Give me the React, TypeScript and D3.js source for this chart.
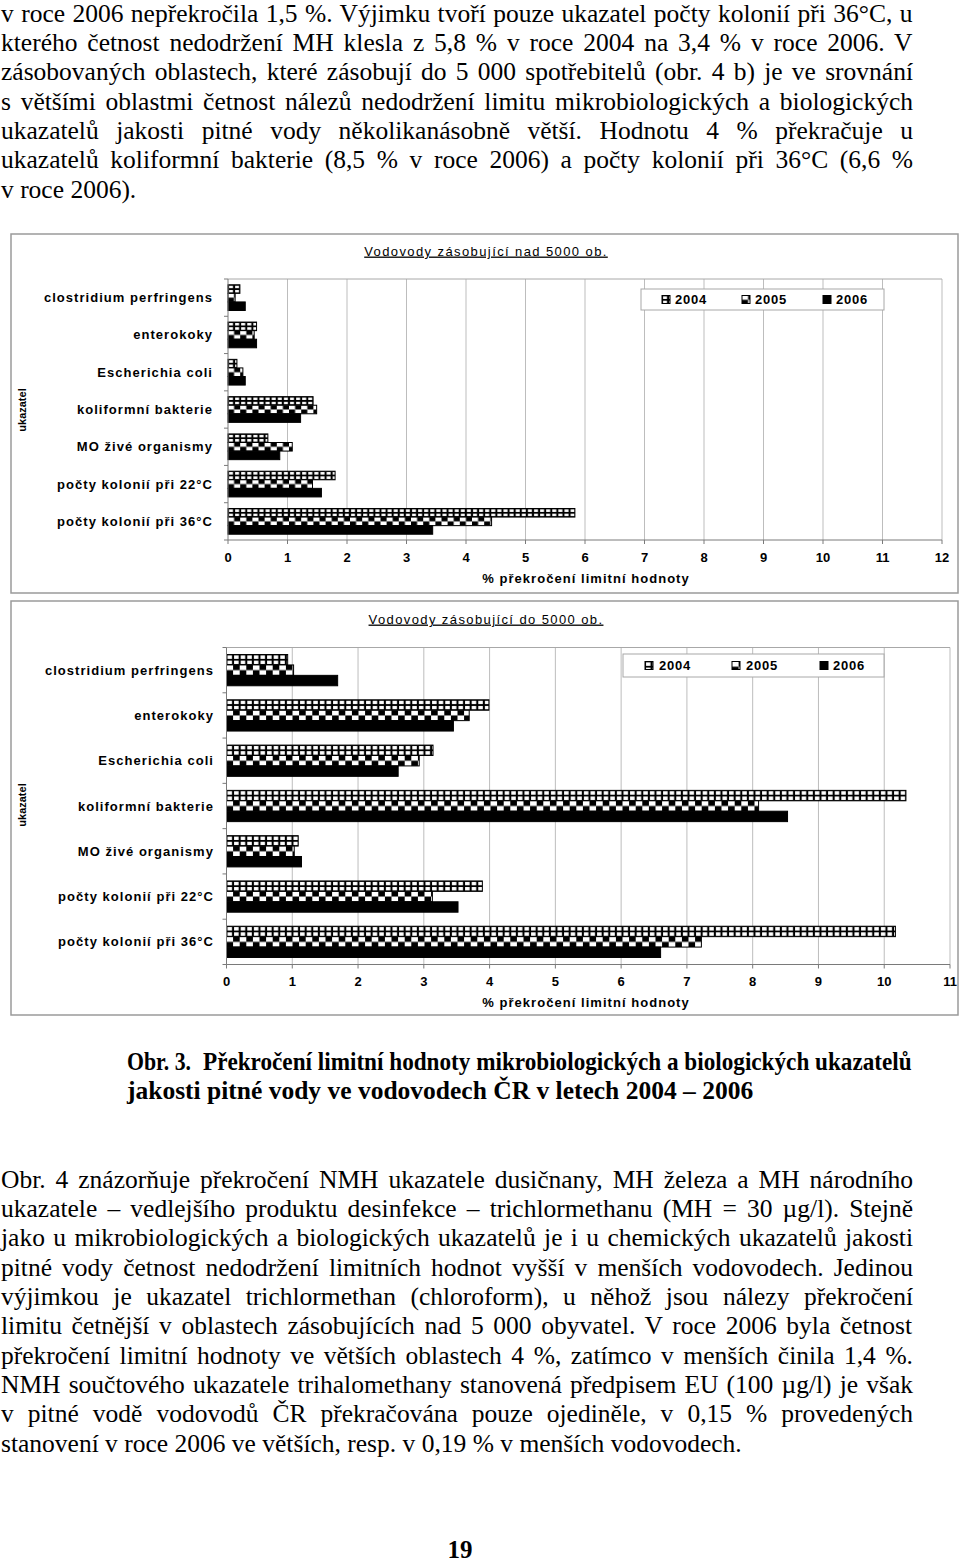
import React from 'react';
import * as d3 from 'd3';

// ---------- data ----------
const categories = [
  'clostridium perfringens',
  'enterokoky',
  'Escherichia coli',
  'koliformní bakterie',
  'MO živé organismy',
  'počty kolonií při 22°C',
  'počty kolonií při 36°C',
];
const years = ['2004', '2005', '2006'];

// Vodovody zásobující nad 5000 ob.
const large2004 = [0.2, 0.48, 0.15, 1.43, 0.67, 1.8, 5.83];
const large2005 = [0.12, 0.44, 0.25, 1.49, 1.08, 1.42, 4.43];
const large2006 = [0.29, 0.48, 0.29, 1.22, 0.87, 1.57, 3.44];
const largeTicks = [0, 1, 2, 3, 4, 5, 6, 7, 8, 9, 10, 11, 12];

// Vodovody zásobující do 5000 ob.
const small2004 = [0.93, 3.99, 3.14, 10.33, 1.09, 3.89, 10.17];
const small2005 = [1.02, 3.69, 2.93, 8.09, 1.03, 3.13, 7.22];
const small2006 = [1.69, 3.45, 2.61, 8.53, 1.14, 3.52, 6.6];
const smallTicks = [0, 1, 2, 3, 4, 5, 6, 7, 8, 9, 10, 11];

const topLines = [
  'v roce 2006 nepřekročila 1,5 %. Výjimku tvoří pouze ukazatel počty kolonií při 36°C, u',
  'kterého četnost nedodržení MH klesla z 5,8 % v roce 2004 na 3,4 % v roce 2006. V',
  'zásobovaných oblastech, které zásobují do 5 000 spotřebitelů (obr. 4 b) je ve srovnání',
  's většími oblastmi četnost nálezů nedodržení limitu mikrobiologických a biologických',
  'ukazatelů jakosti pitné vody několikanásobně větší. Hodnotu 4 % překračuje u',
  'ukazatelů koliformní bakterie (8,5 % v roce 2006) a počty kolonií při 36°C (6,6 %',
  'v roce 2006).',
];
const captionLabel = 'Obr. 3.';
const captionLines = [
  'Překročení limitní hodnoty mikrobiologických a biologických ukazatelů',
  'jakosti pitné vody ve vodovodech ČR v letech 2004 – 2006',
];
const bottomLines = [
  'Obr. 4 znázorňuje překročení NMH ukazatele dusičnany, MH železa a MH národního',
  'ukazatele – vedlejšího produktu desinfekce – trichlormethanu (MH = 30 µg/l). Stejně',
  'jako u mikrobiologických a biologických ukazatelů je i u chemických ukazatelů jakosti',
  'pitné vody četnost nedodržení limitních hodnot vyšší v menších vodovodech. Jedinou',
  'výjimkou je ukazatel trichlormethan (chloroform), u něhož jsou nálezy překročení',
  'limitu četnější v oblastech zásobujících nad 5 000 obyvatel. V roce 2006 byla četnost',
  'překročení limitní hodnoty ve větších oblastech 4 %, zatímco v menších činila 1,4 %.',
  'NMH součtového ukazatele trihalomethany stanovená předpisem EU (100 µg/l) je však',
  'v pitné vodě vodovodů ČR překračována pouze ojediněle, v 0,15 % provedených',
  'stanovení v roce 2006 ve větších, resp. v 0,19 % v menších vodovodech.',
];
const pageNumber = '19';

// ---------- helpers ----------
const SERIF = "'Liberation Serif', 'Times New Roman', serif";
const SANS = "'Liberation Sans', Arial, sans-serif";
const BODY_SIZE = 25.5;

let ctx: CanvasRenderingContext2D | null = null;
function measure(text: string, font: string): number {
  if (!ctx) {
    const c = document.createElement('canvas');
    ctx = c.getContext('2d');
  }
  if (!ctx) return text.length * 10;
  ctx.font = font;
  return ctx.measureText(text).width;
}

function BodyLine({ x, y, right, text, justify, bold, fit }: any) {
  const font = `${bold ? 'bold ' : ''}${BODY_SIZE}px "Liberation Serif"`;
  let ws = 0;
  const w = measure(text, font);
  let sx = 1;
  if (fit && right && w > right - x) {
    sx = (right - x) / w;
  } else if (justify) {
    const n = (text.match(/ /g) || []).length;
    if (n) ws = (right - x - w) / n;
  }
  return (
    <text
      transform={`translate(${x},${y}) scale(${sx},1)`}
      fontFamily={SERIF}
      fontSize={BODY_SIZE}
      fontWeight={bold ? 'bold' : 'normal'}
      style={{ wordSpacing: `${ws}px` }}
      fill="#000"
    >
      {text}
    </text>
  );
}

function BarChart({ id, cfg, s2004, s2005, s2006, ticks }: any) {
  const { frame, plot, legend } = cfg;
  const x = d3.scaleLinear().domain([0, ticks[ticks.length - 1]]).range([plot.l, plot.r]);
  const y = d3
    .scaleBand()
    .domain(categories)
    .range([plot.t, plot.b])
    .paddingInner(0.31)
    .paddingOuter(0.155);
  const inner = d3.scaleBand().domain(years).range([0, y.bandwidth()]);
  const bh = inner.bandwidth();
  const rowH = bh / 2;
  const series = [s2004, s2005, s2006];
  const fills = [`url(#${id}-p2004)`, `url(#${id}-p2005)`, '#000'];
  const step = y.step();
  const boundaries = d3.range(categories.length + 1).map((i) => plot.t + i * step);
  const cw = cfg.cellW;

  return (
    <g>
      <defs>
        <pattern id={`${id}-p2004`} patternUnits="userSpaceOnUse" width={cw} height={rowH}>
          <rect x={0} y={0} width={cw} height={rowH} fill="#000" />
          <rect x={1} y={0.9} width={cw - 2.1} height={rowH - 1.8} fill="#fff" />
        </pattern>
        <pattern id={`${id}-p2005`} patternUnits="userSpaceOnUse" width={cw * 2} height={rowH * 2}>
          <rect x={0} y={0} width={cw * 2} height={rowH * 2} fill="#fff" />
          <rect x={cw} y={0} width={cw} height={rowH} fill="#000" />
          <rect x={0} y={rowH} width={cw} height={rowH} fill="#000" />
        </pattern>
      </defs>
      <rect
        x={frame.x}
        y={frame.y}
        width={frame.w}
        height={frame.h}
        fill="#fff"
        stroke="#9a9a9a"
        strokeWidth={1.5}
      />
      <text
        x={cfg.titleX}
        y={cfg.titleY}
        dy="0.35em"
        textAnchor="middle"
        fontFamily={SANS}
        fontSize={13}
        letterSpacing={1.4}
        textDecoration="underline"
        fill="#000"
      >
        {cfg.title}
      </text>
      {/* gridlines */}
      {ticks.slice(1).map((t: number) => (
        <line key={`g${t}`} x1={x(t)} x2={x(t)} y1={plot.t} y2={plot.b} stroke="#bdbdbd" strokeWidth={1} />
      ))}
      <line x1={plot.l} x2={plot.r} y1={plot.t} y2={plot.t} stroke="#a8a8a8" strokeWidth={1} />
      {/* bars */}
      {categories.map((c, ci) =>
        series.map((s, si) => {
          const by = (y(c) as number) + (inner(years[si]) as number);
          return (
            <g key={`${c}-${si}`} transform={`translate(${x(0)},${by})`}>
              <rect
                x={0}
                y={0}
                width={x(s[ci]) - x(0)}
                height={bh}
                fill={fills[si]}
                stroke="#000"
                strokeWidth={1}
              />
            </g>
          );
        })
      )}
      {/* axes */}
      <line x1={plot.l} x2={plot.l} y1={plot.t} y2={plot.b} stroke="#7a7a7a" strokeWidth={1} />
      {boundaries.map((b, i) => (
        <line key={`yt${i}`} x1={plot.l - 4} x2={plot.l} y1={b} y2={b} stroke="#7a7a7a" strokeWidth={1} />
      ))}
      <line x1={plot.l} x2={plot.r} y1={plot.b} y2={plot.b} stroke="#7a7a7a" strokeWidth={1} />
      {ticks.map((t: number) => (
        <line key={`xt${t}`} x1={x(t)} x2={x(t)} y1={plot.b} y2={plot.b + 4} stroke="#7a7a7a" strokeWidth={1} />
      ))}
      {ticks.map((t: number) => (
        <text
          key={`tl${t}`}
          x={x(t)}
          y={cfg.tickY}
          dy="0.35em"
          textAnchor="middle"
          fontFamily={SANS}
          fontWeight="bold"
          fontSize={13}
          fill="#000"
        >
          {t}
        </text>
      ))}
      <text
        x={cfg.axisTitleX}
        y={cfg.axisTitleY}
        dy="0.35em"
        textAnchor="middle"
        fontFamily={SANS}
        fontWeight="bold"
        fontSize={13}
        letterSpacing={1.04}
        fill="#000"
      >
        % překročení limitní hodnoty
      </text>
      {categories.map((c) => (
        <text
          key={`cl${c}`}
          x={cfg.labelRight}
          y={(y(c) as number) + y.bandwidth() / 2}
          dy="0.35em"
          textAnchor="end"
          fontFamily={SANS}
          fontWeight="bold"
          fontSize={13}
          letterSpacing={1.04}
          fill="#000"
        >
          {c}
        </text>
      ))}
      <text
        transform={`translate(${cfg.yTitleX},${cfg.yTitleY}) rotate(-90)`}
        dy="0.35em"
        textAnchor="middle"
        fontFamily={SANS}
        fontWeight="bold"
        fontSize={11}
        fill="#000"
      >
        ukazatel
      </text>
      {/* legend */}
      <rect
        x={legend.x}
        y={legend.y}
        width={legend.w}
        height={legend.h}
        fill="#fff"
        stroke="#a8a8a8"
        strokeWidth={1}
      />
      {years.map((yr, i) => (
        <g key={`lg${yr}`}>
          <g transform={`translate(${legend.swatchX[i]},${legend.y + legend.h / 2 - 4})`}>
            <rect x={0} y={0} width={8} height={8} fill={fills[i]} stroke="#000" strokeWidth={1} />
          </g>
          <text
            x={legend.textX[i]}
            y={legend.y + legend.h / 2}
            dy="0.35em"
            fontFamily={SANS}
            fontWeight="bold"
            fontSize={13}
            letterSpacing={0.8}
            fill="#000"
          >
            {yr}
          </text>
        </g>
      ))}
    </g>
  );
}

const chart1 = {
  title: 'Vodovody zásobující nad 5000 ob.',
  frame: { x: 11, y: 234, w: 947, h: 359 },
  titleX: 486,
  titleY: 251,
  plot: { l: 228, r: 942, t: 279, b: 540 },
  tickY: 557,
  axisTitleX: 586,
  axisTitleY: 578,
  labelRight: 213,
  yTitleX: 22,
  yTitleY: 410,
  cellW: 6.1,
  legend: { x: 641, y: 289, w: 243, h: 21, swatchX: [662, 742, 823], textX: [675, 755, 836] },
};

const chart2 = {
  title: 'Vodovody zásobující do 5000 ob.',
  frame: { x: 11, y: 601, w: 947, h: 414 },
  titleX: 486,
  titleY: 619,
  plot: { l: 226.5, r: 950, t: 647.5, b: 964.5 },
  tickY: 981,
  axisTitleX: 586,
  axisTitleY: 1002,
  labelRight: 214,
  yTitleX: 22,
  yTitleY: 805,
  cellW: 6.6,
  legend: { x: 623, y: 654, w: 261, h: 23, swatchX: [645, 732, 820], textX: [659, 746, 833] },
};

export default function App() {
  const left = 1;
  const right = 913;
  const step = 29.35;
  return (
    <svg
      width={960}
      height={1563}
      viewBox="0 0 960 1563"
      style={{ position: 'absolute', left: 0, top: 0, background: '#fff' }}
    >
      <rect x={0} y={0} width={960} height={1563} fill="#fff" />
      {topLines.map((t, i) => (
        <BodyLine
          key={`t${i}`}
          x={left}
          y={21.5 + i * step}
          right={right}
          text={t}
          justify={i < topLines.length - 1}
        />
      ))}
      <BarChart id="c1" cfg={chart1} s2004={large2004} s2005={large2005} s2006={large2006} ticks={largeTicks} />
      <BarChart id="c2" cfg={chart2} s2004={small2004} s2005={small2005} s2006={small2006} ticks={smallTicks} />
      <BodyLine x={127} y={1069.5} right={191} text={captionLabel} bold fit />
      <BodyLine x={203} y={1069.5} right={912} text={captionLines[0]} bold fit />
      <BodyLine x={127} y={1069.5 + step} text={captionLines[1]} bold />
      {bottomLines.map((t, i) => (
        <BodyLine
          key={`b${i}`}
          x={left}
          y={1187.5 + i * step}
          right={right}
          text={t}
          justify={i < bottomLines.length - 1}
        />
      ))}
      <text x={460} y={1558} textAnchor="middle" fontFamily={SERIF} fontWeight="bold" fontSize={25} fill="#000">
        {pageNumber}
      </text>
    </svg>
  );
}
